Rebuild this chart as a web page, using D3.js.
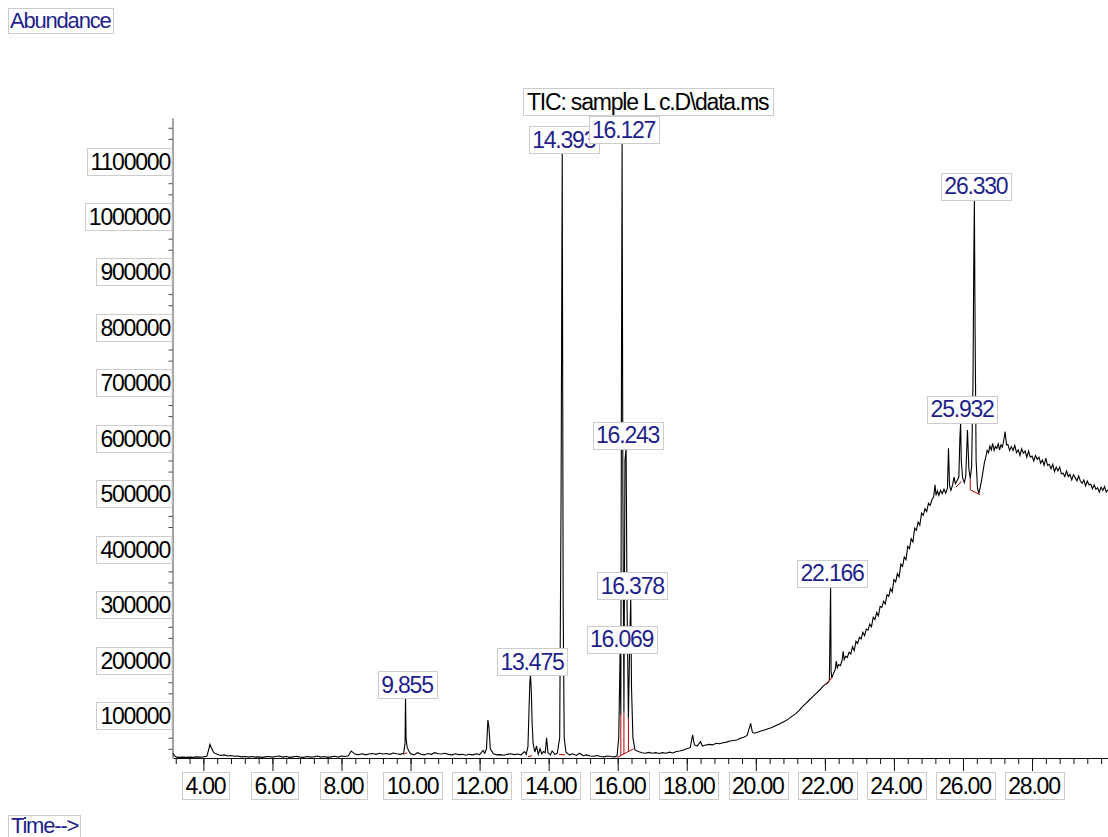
<!DOCTYPE html>
<html>
<head>
<meta charset="utf-8">
<script src="https://cdn.jsdelivr.net/npm/d3@7"></script>
<style>
  body { margin: 0; background: #fff; }
  text { font-family: "Liberation Sans", Arial, sans-serif; }
</style>
</head>
<body>
<svg id="chart" width="1108" height="837"></svg>
<script>
// DATA
var chartTitle = "TIC: sample L c.D\\data.ms";
var yTitle = "Abundance";
var xTitle = "Time-->";

// retention time (min), abundance
var tic = [
  [3.12, 32000], [3.16, 27500], [3.22, 25000], [3.30, 24500], [3.40, 25000], [3.50, 24500],
  [3.60, 25000], [3.70, 24500], [3.80, 25500], [3.90, 25000], [4.00, 25500], [4.10, 26500],
  [4.16, 40000], [4.19, 48000], [4.23, 42000], [4.30, 33000], [4.40, 30000], [4.50, 28000],
  [4.60, 29000], [4.70, 27000], [4.80, 28000], [4.90, 26500], [5.00, 27000], [5.10, 25500],
  [5.20, 26000], [5.30, 25000], [5.40, 26000], [5.50, 25000], [5.60, 25500], [5.70, 24500],
  [5.80, 25500], [5.90, 26000], [6.00, 25000], [6.10, 26000], [6.20, 27000], [6.30, 25000],
  [6.40, 26000], [6.50, 24500], [6.60, 25500], [6.70, 26500], [6.80, 25000], [6.90, 24500],
  [7.00, 26000], [7.10, 25000], [7.20, 25500], [7.30, 27000], [7.40, 25000], [7.50, 26000],
  [7.60, 24500], [7.70, 25500], [7.80, 26500], [7.90, 25000], [8.00, 27000], [8.10, 26000],
  [8.20, 27500], [8.28, 36000], [8.32, 34000], [8.40, 30000], [8.50, 29500], [8.60, 31000],
  [8.70, 29000], [8.80, 30500], [8.90, 31500], [9.00, 30000], [9.10, 32000], [9.20, 30500],
  [9.30, 31500], [9.40, 30000], [9.50, 32500], [9.60, 31000], [9.70, 30000], [9.80, 32000],
  [9.84, 50000], [9.855, 131000], [9.87, 60000], [9.90, 43000], [9.95, 36000], [10.00, 31000],
  [10.10, 29000], [10.20, 33000], [10.30, 30000], [10.40, 29000], [10.50, 31500], [10.60, 30000],
  [10.70, 33000], [10.80, 31000], [10.90, 30500], [11.00, 32000], [11.10, 30000], [11.20, 29000],
  [11.30, 31000], [11.40, 29500], [11.50, 30000], [11.60, 28500], [11.70, 30000], [11.80, 29000],
  [11.90, 31000], [12.00, 29500], [12.10, 37000], [12.15, 32000], [12.20, 40000], [12.24, 92000],
  [12.27, 79000], [12.31, 40000], [12.40, 31000], [12.50, 29000], [12.60, 29500], [12.70, 28500],
  [12.80, 30000], [12.90, 31000], [13.00, 29500], [13.10, 30500], [13.20, 29000], [13.30, 35000],
  [13.35, 30000], [13.40, 44000], [13.455, 160000], [13.475, 173000], [13.50, 140000], [13.52, 88000],
  [13.55, 50000], [13.60, 34000], [13.65, 45000], [13.70, 30000], [13.75, 40000], [13.80, 31000],
  [13.85, 35000], [13.90, 33000], [13.94, 60000], [13.98, 33000], [14.05, 29000], [14.10, 36000],
  [14.18, 30000], [14.25, 32000], [14.32, 60000], [14.36, 500000], [14.393, 1114000], [14.42, 300000],
  [14.45, 60000], [14.50, 34000], [14.60, 29000], [14.70, 31000], [14.80, 28000], [14.90, 32000],
  [15.00, 27500], [15.10, 29000], [15.20, 27000], [15.30, 26500], [15.40, 28000], [15.50, 26000],
  [15.60, 25500], [15.70, 27000], [15.80, 26000], [15.90, 25500], [15.98, 27000], [16.03, 60000],
  [16.069, 213000], [16.09, 100000], [16.11, 750000], [16.127, 1132000], [16.15, 500000], [16.18, 105000],
  [16.21, 560000], [16.243, 581000], [16.27, 300000], [16.31, 95000], [16.35, 240000], [16.378, 310000],
  [16.40, 150000], [16.44, 60000], [16.50, 38000], [16.60, 35000], [16.70, 33000], [16.80, 32000],
  [16.90, 33500], [17.00, 32000], [17.10, 33000], [17.20, 31500], [17.30, 33000], [17.40, 32000],
  [17.50, 34000], [17.60, 32500], [17.70, 35000], [17.80, 36000], [17.90, 38000], [18.00, 40000],
  [18.10, 42000], [18.17, 65000], [18.22, 47000], [18.30, 45000], [18.40, 53000], [18.45, 45000],
  [18.55, 47000], [18.65, 48000], [18.75, 47000], [18.85, 50000], [18.95, 49000], [19.05, 51000],
  [19.15, 52000], [19.25, 54000], [19.35, 55000], [19.45, 56000], [19.55, 59000], [19.65, 61000],
  [19.75, 64000], [19.85, 86000], [19.90, 70000], [19.95, 68000], [20.05, 70000], [20.15, 72000],
  [20.25, 74000], [20.35, 76000], [20.45, 78000], [20.55, 81000], [20.65, 84000], [20.75, 87000],
  [20.85, 90000], [20.95, 94000], [21.05, 99000], [21.15, 103000], [21.25, 109000], [21.35, 116000],
  [21.45, 122000], [21.55, 128000], [21.65, 134000], [21.75, 140000], [21.85, 146000], [21.95, 153000],
  [22.05, 158000], [22.13, 163000], [22.15, 260000], [22.166, 332000], [22.18, 180000], [22.20, 168000],
  [22.25, 176000], [22.30, 183000], [22.33, 198000], [22.36, 186000], [22.40, 192000], [22.45, 190000],
  [22.50, 200000], [22.53, 216000], [22.56, 201000], [22.60, 207000], [22.65, 205000], [22.70, 214000],
  [22.75, 211000], [22.80, 224000], [22.85, 217000], [22.90, 234000], [22.95, 230000], [23.00, 241000],
  [23.05, 238000], [23.10, 250000], [23.15, 244000], [23.20, 256000], [23.25, 254000], [23.30, 265000],
  [23.35, 260000], [23.40, 277000], [23.45, 273000], [23.50, 286000], [23.55, 280000], [23.60, 297000],
  [23.65, 295000], [23.70, 306000], [23.75, 301000], [23.80, 318000], [23.85, 315000], [23.90, 329000],
  [23.95, 323000], [24.00, 345000], [24.05, 341000], [24.10, 356000], [24.15, 350000], [24.20, 373000],
  [24.25, 369000], [24.30, 386000], [24.35, 381000], [24.40, 405000], [24.45, 401000], [24.50, 419000],
  [24.55, 413000], [24.60, 438000], [24.65, 434000], [24.70, 449000], [24.75, 443000], [24.80, 465000],
  [24.85, 461000], [24.90, 473000], [24.95, 468000], [25.00, 483000], [25.05, 479000], [25.10, 489000],
  [25.15, 494000], [25.19, 516000], [25.22, 497000], [25.26, 505000], [25.30, 497000], [25.35, 506000],
  [25.40, 500000], [25.45, 508000], [25.50, 501000], [25.55, 510000], [25.58, 582000], [25.61, 515000],
  [25.65, 506000], [25.70, 516000], [25.74, 530000], [25.78, 518000], [25.83, 524000], [25.88, 530000],
  [25.91, 600000], [25.932, 628000], [25.95, 560000], [25.99, 528000], [26.04, 520000], [26.08, 532000],
  [26.13, 615000], [26.17, 545000], [26.21, 528000], [26.25, 548000], [26.29, 700000], [26.31, 900000],
  [26.330, 1030000], [26.35, 800000], [26.38, 560000], [26.42, 510000], [26.46, 500000], [26.50, 512000],
  [26.54, 525000], [26.58, 540000], [26.62, 556000], [26.66, 566000], [26.70, 578000], [26.74, 574000],
  [26.78, 586000], [26.82, 579000], [26.86, 591000], [26.90, 578000], [26.94, 585000], [26.98, 582000],
  [27.02, 590000], [27.06, 579000], [27.10, 588000], [27.14, 584000], [27.18, 596000], [27.22, 612000],
  [27.26, 588000], [27.30, 589000], [27.35, 578000], [27.40, 585000], [27.45, 578000], [27.50, 587000],
  [27.55, 574000], [27.60, 579000], [27.65, 569000], [27.70, 581000], [27.75, 573000], [27.80, 577000],
  [27.85, 566000], [27.90, 577000], [27.95, 566000], [28.00, 568000], [28.05, 559000], [28.10, 569000],
  [28.15, 562000], [28.20, 566000], [28.25, 555000], [28.30, 561000], [28.35, 551000], [28.40, 564000],
  [28.45, 551000], [28.50, 553000], [28.55, 545000], [28.60, 553000], [28.65, 540000], [28.70, 548000],
  [28.75, 541000], [28.80, 548000], [28.85, 536000], [28.90, 537000], [28.95, 531000], [29.00, 541000],
  [29.05, 531000], [29.10, 535000], [29.15, 525000], [29.20, 534000], [29.25, 529000], [29.30, 523000],
  [29.35, 532000], [29.40, 523000], [29.45, 519000], [29.50, 525000], [29.55, 514000], [29.60, 523000],
  [29.65, 516000], [29.70, 517000], [29.75, 509000], [29.80, 516000], [29.85, 508000], [29.90, 511000],
  [29.95, 503000], [30.00, 512000], [30.05, 506000], [30.10, 513000], [30.15, 503000], [30.20, 507000]
];

// labelled peaks
var peakTimes = [9.855, 13.475, 14.393, 16.069, 16.127, 16.243, 16.378, 22.166, 25.932, 26.330];
var peakNames = ["9.855", "13.475", "14.393", "16.069", "16.127", "16.243", "16.378", "22.166", "25.932", "26.330"];

// integration baselines / drop lines: [t1, v1, t2, v2]
var integration = [
  [9.80, 30000, 9.90, 33000],
  [13.40, 26000, 13.52, 27500],
  [14.30, 30000, 14.48, 29000],
  [15.99, 24500, 16.46, 40000],
  [16.09, 27800, 16.09, 100000],
  [16.18, 30400, 16.18, 105000],
  [16.31, 34800, 16.31, 95000],
  [22.05, 156000, 22.22, 170000],
  [25.80, 512000, 25.96, 522000],
  [26.21, 507000, 26.21, 528000],
  [26.21, 507000, 26.50, 498000]
];

// axis ticks
var xMajor = [4, 6, 8, 10, 12, 14, 16, 18, 20, 22, 24, 26, 28];
var xTickLabels = ["4.00", "6.00", "8.00", "10.00", "12.00", "14.00", "16.00", "18.00", "20.00", "22.00", "24.00", "26.00", "28.00"];
var yMajor = [100000, 200000, 300000, 400000, 500000, 600000, 700000, 800000, 900000, 1000000, 1100000];
var yTickLabels = ["100000", "200000", "300000", "400000", "500000", "600000", "700000", "800000", "900000", "1000000", "1100000"];

var blue = "#1f1f8c";
var boxLine = "#cccccc";

var svg = d3.select("#chart");

var x = d3.scaleLinear().domain([3.12, 30.2]).range([173, 1108]);
var y = d3.scaleLinear().domain([23400, 1177600]).range([758, 118]);

var xMinor = d3.range(8, 76).map(function (i) { return +(i * 0.4).toFixed(1); });
var yMinor = d3.range(2, 59).map(function (i) { return i * 20000; });

// AXES
var gx = svg.append("g").attr("transform", "translate(0,758)");
gx.call(d3.axisBottom(x).tickValues(xMinor).tickSize(6).tickSizeOuter(0).tickFormat(""));
gx.append("g").call(d3.axisBottom(x).tickValues(xMajor).tickSize(13).tickSizeOuter(0).tickFormat(""))
  .select(".domain").remove();
gx.selectAll("line, path").attr("stroke", "#111");

var gy = svg.append("g").attr("transform", "translate(172.5,0)");
gy.call(d3.axisLeft(y).tickValues(yMinor).tickSize(4).tickSizeOuter(0).tickFormat(""));
gy.selectAll("line, path").attr("stroke", "#444");

// TRACE
var line = d3.line()
  .x(function (d) { return x(d[0]); })
  .y(function (d) { return y(d[1]); });

svg.append("path")
  .datum(tic)
  .attr("fill", "none")
  .attr("stroke", "#000")
  .attr("stroke-width", 1.1)
  .attr("d", line);

svg.selectAll(".integ")
  .data(integration)
  .enter().append("line")
  .attr("class", "integ")
  .attr("x1", function (d) { return x(d[0]); })
  .attr("y1", function (d) { return y(d[1]); })
  .attr("x2", function (d) { return x(d[2]); })
  .attr("y2", function (d) { return y(d[3]); })
  .attr("stroke", "#b40000")
  .attr("stroke-width", 1);

// boxed text helper
function boxed(g, str, color, size, anchor, tx, ty, padL, padR, boxTop, boxH) {
  var grp = g.append("g");
  var r = grp.append("rect");
  var t = grp.append("text")
    .attr("x", tx)
    .attr("y", ty)
    .attr("font-size", size)
    .attr("letter-spacing", -1.2)
    .attr("fill", color)
    .attr("text-anchor", anchor)
    .text(str);
  var w = t.node().getComputedTextLength();
  var left = anchor == "end" ? tx - w : anchor == "middle" ? tx - w / 2 : tx;
  r.attr("x", Math.round(left - padL) + 0.5)
    .attr("y", Math.round(boxTop) + 0.5)
    .attr("width", Math.round(w + padL + padR))
    .attr("height", boxH)
    .attr("fill", "#fff")
    .attr("stroke", boxLine)
    .attr("stroke-width", 1);
  return grp;
}

// x tick labels
var xl = svg.append("g");
xMajor.forEach(function (v, i) {
  boxed(xl, xTickLabels[i], "#000", 23, "middle", x(v) + 2, 794, 3.5, 3.5, 772, 27);
});

// y tick labels
var yl = svg.append("g");
yMajor.forEach(function (v, i) {
  var g = boxed(yl, yTickLabels[i], "#000", 23, "end", 170, y(v) + 8.5, 4, 0, y(v) - 13.5, 27);
  var r = g.select("rect");
  r.attr("width", 172 - (+r.attr("x")));
});

// title
boxed(svg, chartTitle, "#000", 23, "start", 527, 110, 4.5, 4, 88, 27);

// peak labels
var pl = svg.append("g");
peakTimes.forEach(function (t, i) {
  var top = tic.filter(function (d) { return d[0] == t; })[0][1];
  var by = y(top);
  boxed(pl, peakNames[i], blue, 23, "middle", x(t) + 1.5, by - 5.5, 3.5, 3.5, by - 27, 27);
});

// axis titles
boxed(svg, yTitle, blue, 22, "start", 10, 28, 2, 2, 8, 25);
boxed(svg, xTitle, blue, 22, "start", 11, 833, 3, 2, 815, 26);
</script>
</body>
</html>
